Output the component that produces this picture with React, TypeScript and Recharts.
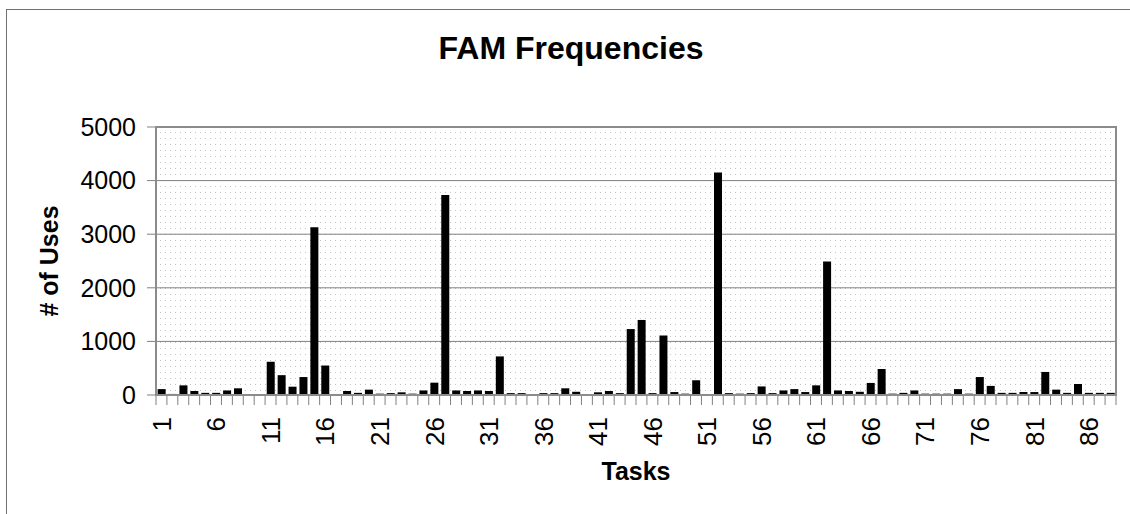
import React from "react";
import { BarChart, Bar, XAxis, YAxis, CartesianGrid } from "recharts";

// # of uses per task (tasks 1..88)
const uses = [
  110, 20, 180, 75, 40, 40, 85, 125, 5, 5,
  620, 370, 155, 335, 3130, 550, 10, 75, 40, 100,
  25, 35, 50, 25, 85, 230, 3730, 85, 75, 85,
  75, 720, 35, 35, 5, 35, 35, 125, 60, 5,
  50, 75, 35, 1230, 1400, 35, 1110, 55, 25, 275,
  5, 4150, 35, 25, 35, 160, 35, 85, 110, 55,
  180, 2490, 85, 75, 60, 225, 485, 25, 40, 85,
  25, 25, 25, 110, 25, 335, 170, 40, 40, 55,
  55, 430, 100, 40, 205, 40, 40, 40,
];

const xTickLabels = ["1", "6", "11", "16", "21", "26", "31", "36", "41", "46", "51", "56", "61", "66", "71", "76", "81", "86"];
const yTicks = [0, 1000, 2000, 3000, 4000, 5000];

const data = uses.map((v, i) => ({ task: String(i + 1), uses: v }));

const W = 1130;
const H = 514;
const PLOT_LEFT = 156;
const PLOT_RIGHT = 1116;
const PLOT_TOP = 127;
const PLOT_BOTTOM = 395;
const PLOT_W = PLOT_RIGHT - PLOT_LEFT;

function TaskTick(props: any) {
  const { x, y, payload } = props;
  const bw = PLOT_W / uses.length;
  const label = String(payload.value);
  const axisY = y - 22;
  const isLast = Number(label) === uses.length;
  return (
    <g>
      <line x1={x - bw / 2} x2={x - bw / 2} y1={axisY} y2={axisY + 10} stroke="#808080" />
      {isLast && (
        <line x1={x + bw / 2} x2={x + bw / 2} y1={axisY} y2={axisY + 10} stroke="#808080" />
      )}
      {xTickLabels.includes(label) && (
        <text
          x={x}
          y={y}
          transform={`rotate(-90 ${x} ${y})`}
          textAnchor="end"
          dy="0.36em"
          fontSize={26}
          fill="#000"
        >
          {label}
        </text>
      )}
    </g>
  );
}

export default function App() {
  return (
    <div
      style={{
        position: "absolute",
        left: 0,
        top: 0,
        width: W,
        height: H,
        overflow: "hidden",
        background: "#fff",
        fontFamily: "'Liberation Sans', Arial, sans-serif",
      }}
    >
      {/* outer chart frame, runs off the right/bottom edge */}
      <div
        style={{
          position: "absolute",
          left: 6,
          top: 9,
          width: 1200,
          height: 600,
          border: "1px solid #707070",
        }}
      />
      <div
        style={{
          position: "absolute",
          left: 0,
          top: 32,
          width: 1142,
          textAlign: "center",
          fontSize: 32,
          lineHeight: "32px",
          fontWeight: "bold",
          color: "#000",
        }}
      >
        FAM Frequencies
      </div>

      <BarChart
        width={W}
        height={H}
        data={data}
        margin={{ top: PLOT_TOP, right: W - PLOT_RIGHT, bottom: 19, left: 0 }}
        barCategoryGap="15%"
        style={{ position: "absolute", left: 0, top: 0 }}
      >
        <defs>
          <pattern id="dots" patternUnits="userSpaceOnUse" width="5" height="6">
            <rect x="0" y="0" width="1" height="1" fill="#c4c4c4" />
          </pattern>
        </defs>
        <CartesianGrid
          vertical={false}
          stroke="#808080"
          fill="url(#dots)"
          fillOpacity={1}
        />
        <XAxis
          dataKey="task"
          interval={0}
          axisLine={false}
          tickLine={false}
          tickSize={10}
          tickMargin={12}
          height={100}
          tick={<TaskTick />}
          label={{
            value: "Tasks",
            position: "insideBottom",
            offset: 15,
            fontSize: 25,
            fontWeight: "bold",
            fill: "#000",
          }}
        />
        <YAxis
          width={PLOT_LEFT}
          domain={[0, 5000]}
          ticks={yTicks}
          interval={0}
          axisLine={false}
          tickLine={{ stroke: "#808080" }}
          tickSize={9}
          tickMargin={11}
          tick={{ fill: "#000", fontSize: 25 }}
          label={{
            value: "# of Uses",
            angle: -90,
            position: "insideLeft",
            offset: 49,
            fontSize: 25,
            fontWeight: "bold",
            fill: "#000",
            style: { textAnchor: "middle" },
          }}
        />
        <Bar dataKey="uses" fill="#000" isAnimationActive={false} />
      </BarChart>

      {/* plot area frame */}
      <div
        style={{
          position: "absolute",
          left: PLOT_LEFT - 1,
          top: PLOT_TOP - 1,
          width: PLOT_W + 2,
          height: PLOT_BOTTOM - PLOT_TOP + 2,
          border: "2px solid #8c8c8c",
          boxSizing: "border-box",
          pointerEvents: "none",
        }}
      />
    </div>
  );
}
